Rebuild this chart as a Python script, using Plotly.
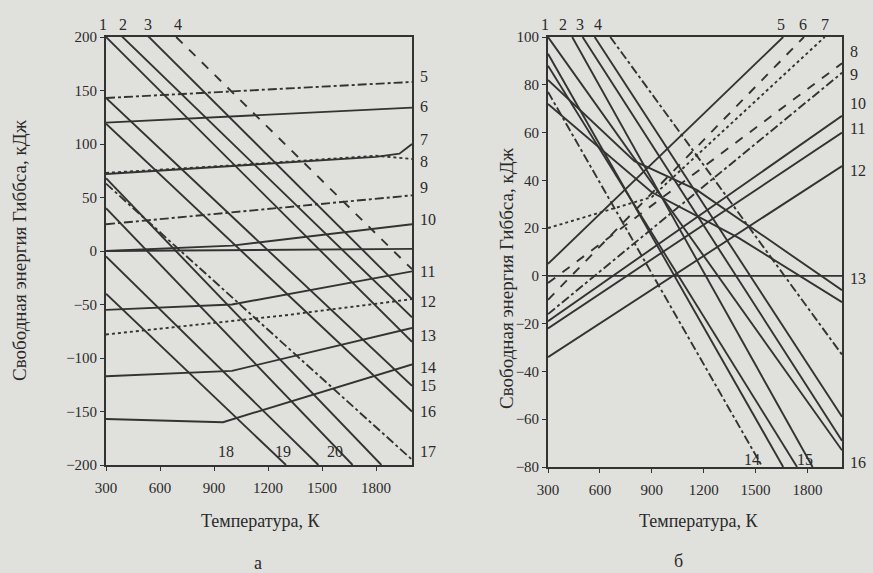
import plotly.graph_objects as go

# ---------------- Panel а (left): T, K and G, kJ ----------------
a1_T = [300, 2000];              a1_G = [200, -85]
a2_T = [300, 2000];              a2_G = [215, -62]
a3_T = [300, 2000];              a3_G = [240, -45]
a4_T = [690, 2000];              a4_G = [200, -17]
a5_T = [300, 2000];              a5_G = [143, 158]
a6_T = [300, 2000];              a6_G = [120, 134]
a7_T = [300, 1800, 1930, 2000];  a7_G = [72, 88, 91, 100]
a8_T = [300, 1000, 1800, 2000];  a8_G = [73, 80, 89, 86]
a9_T = [300, 2000];              a9_G = [25, 52]
a10_T = [300, 1000, 2000];       a10_G = [0, 5, 25]
a0_T = [300, 2000];              a0_G = [0, 2]
a11_T = [300, 1000, 2000];       a11_G = [-55, -50, -19]
a12_T = [300, 1300, 2000];       a12_G = [-78, -60, -45]
a13_T = [300, 1000, 2000];       a13_G = [-117, -112, -72]
a14_T = [300, 950, 2000];        a14_G = [-157, -160, -106]
a15_T = [300, 2000];             a15_G = [143, -126]
a16_T = [300, 2000];             a16_G = [119, -150]
a17_T = [300, 2000];             a17_G = [63, -195]
a18_T = [300, 1300];             a18_G = [-40, -200]
a19_T = [300, 1670];             a19_G = [40, -200]
a20_T = [300, 1830];             a20_G = [68, -200]
a21_T = [300, 1480];             a21_G = [-5, -200]

# ---------------- Panel б (right) ----------------
b1_T = [300, 2000];              b1_G = [100, -73]
b2_T = [440, 1830];              b2_G = [100, -80]
b3_T = [500, 2000];              b3_G = [100, -69]
b3b_T = [570, 2000];             b3b_G = [100, -59]
b4_T = [660, 2000];              b4_G = [100, -33]
b5_T = [300, 1660];              b5_G = [5, 100]
b6_T = [300, 1780];              b6_G = [-10, 100]
b7_T = [300, 900, 1900];         b7_G = [20, 33, 100]
b8_T = [300, 2000];              b8_G = [-3, 89]
b9_T = [300, 2000];              b9_G = [-16, 85]
b10_T = [300, 2000];             b10_G = [-19, 67]
b11_T = [300, 2000];             b11_G = [-22, 60]
b12_T = [300, 2000];             b12_G = [-34, 46]
b13_T = [300, 2000];             b13_G = [0, 0]
b14_T = [300, 1540];             b14_G = [77, -80]
b15a_T = [300, 1660];            b15a_G = [93, -80]
b15b_T = [300, 1740];            b15b_G = [88, -80]
bc1_T = [300, 800, 1160, 2000];  bc1_G = [82, 48, 36, -6]
bc2_T = [300, 900, 1400, 2000];  bc2_G = [72, 35, 16, -11]

a_ticks = [-200, -150, -100, -50, 0, 50, 100, 150, 200]
b_ticks = [-80, -60, -40, -20, 0, 20, 40, 60, 80, 100]
x_ticks = [300, 600, 900, 1200, 1500, 1800]

# line labels
a_labels_right = [("5", 163), ("6", 135), ("7", 104), ("8", 84), ("9", 59), ("10", 29),
                  ("11", -19), ("12", -47), ("13", -79), ("14", -109), ("15", -126),
                  ("16", -150), ("17", -187)]
a_labels_top = [("1", 283), ("2", 394), ("3", 533), ("4", 700)]
a_labels_bottom = [("18", 967), ("19", 1283), ("20", 1572)]
b_labels_right = [("8", 94), ("9", 84.5), ("10", 72), ("11", 61.5), ("12", 44), ("13", -1), ("16", -78)]
b_labels_top = [("1", 283), ("2", 387), ("3", 485), ("4", 589), ("5", 1647), ("6", 1774), ("7", 1901)]
b_labels_bottom = [("14", 1480), ("15", 1786)]

LC = "#333333"
BG = "#e0e0dc"
FONT = "Liberation Serif"

a_lines = [
    (a1_T, a1_G, "solid"), (a2_T, a2_G, "solid"), (a3_T, a3_G, "solid"), (a4_T, a4_G, "dash"),
    (a5_T, a5_G, "dashdot"), (a6_T, a6_G, "solid"), (a7_T, a7_G, "solid"), (a8_T, a8_G, "dot"),
    (a9_T, a9_G, "dashdot"), (a10_T, a10_G, "solid"), (a0_T, a0_G, "solid"),
    (a11_T, a11_G, "solid"), (a12_T, a12_G, "dot"), (a13_T, a13_G, "solid"), (a14_T, a14_G, "solid"),
    (a15_T, a15_G, "solid"), (a16_T, a16_G, "solid"), (a17_T, a17_G, "dashdot"),
    (a18_T, a18_G, "solid"), (a19_T, a19_G, "solid"), (a20_T, a20_G, "solid"), (a21_T, a21_G, "solid"),
]
b_lines = [
    (b1_T, b1_G, "solid"), (b2_T, b2_G, "solid"), (b3_T, b3_G, "solid"), (b3b_T, b3b_G, "solid"),
    (b4_T, b4_G, "dashdot"), (b5_T, b5_G, "solid"), (b6_T, b6_G, "dash"), (b7_T, b7_G, "dot"),
    (b8_T, b8_G, "dash"), (b9_T, b9_G, "dashdot"), (b10_T, b10_G, "solid"), (b11_T, b11_G, "solid"),
    (b12_T, b12_G, "solid"), (b13_T, b13_G, "solid"), (b14_T, b14_G, "dashdot"),
    (b15a_T, b15a_G, "solid"), (b15b_T, b15b_G, "solid"), (bc1_T, bc1_G, "solid"), (bc2_T, bc2_G, "solid"),
]

fig = go.Figure()
for T, G, d in a_lines:
    fig.add_trace(go.Scatter(x=T, y=G, mode="lines", xaxis="x", yaxis="y",
                             line=dict(color=LC, width=1.9, dash=d), showlegend=False, hoverinfo="skip"))
for T, G, d in b_lines:
    fig.add_trace(go.Scatter(x=T, y=G, mode="lines", xaxis="x2", yaxis="y2",
                             line=dict(color=LC, width=1.9, dash=d), showlegend=False, hoverinfo="skip"))

ann = []
lf = dict(family=FONT, size=16, color="#2a2a2a")
for t, g in a_labels_right:
    ann.append(dict(x=2000, y=g, xref="x", yref="y", text=t, showarrow=False, xanchor="left",
                    xshift=6, font=lf))
for t, T in a_labels_top:
    ann.append(dict(x=max(T, 300), y=200, xref="x", yref="y", text=t, showarrow=False, yanchor="bottom",
                    yshift=2, xshift=-3 if T < 300 else 0, font=lf))
for t, T in a_labels_bottom:
    ann.append(dict(x=T, y=-187, xref="x", yref="y", text=t, showarrow=False, font=lf))
for t, g in b_labels_right:
    ann.append(dict(x=2000, y=g, xref="x2", yref="y2", text=t, showarrow=False, xanchor="left",
                    xshift=6, font=lf))
for t, T in b_labels_top:
    ann.append(dict(x=max(T, 300), y=100, xref="x2", yref="y2", text=t, showarrow=False, yanchor="bottom",
                    yshift=2, xshift=-3 if T < 300 else 0, font=lf))
for t, T in b_labels_bottom:
    ann.append(dict(x=T, y=-77, xref="x2", yref="y2", text=t, showarrow=False, font=lf))

yf = dict(family=FONT, size=19, color="#2a2a2a")
xf = dict(family=FONT, size=18, color="#2a2a2a")
ytitle = "Свободная энергия Гиббса, кДж"
ann += [
    dict(x=19 / 873, y=1 - 250 / 573, xref="paper", yref="paper", text=ytitle, textangle=-90,
         showarrow=False, font=yf, xanchor="center", yanchor="middle"),
    dict(x=506 / 873, y=1 - 278 / 573, xref="paper", yref="paper", text=ytitle, textangle=-90,
         showarrow=False, font=yf, xanchor="center", yanchor="middle"),
    dict(x=260 / 873, y=1 - 521 / 573, xref="paper", yref="paper", text="Температура, К",
         showarrow=False, font=xf, xanchor="center", yanchor="middle"),
    dict(x=698 / 873, y=1 - 521 / 573, xref="paper", yref="paper", text="Температура, К",
         showarrow=False, font=xf, xanchor="center", yanchor="middle"),
    dict(x=258 / 873, y=1 - 563 / 573, xref="paper", yref="paper", text="а",
         showarrow=False, font=xf, xanchor="center", yanchor="middle"),
    dict(x=678 / 873, y=1 - 561 / 573, xref="paper", yref="paper", text="б",
         showarrow=False, font=xf, xanchor="center", yanchor="middle"),
]

axcommon = dict(showgrid=False, zeroline=False, showline=True, linecolor=LC, linewidth=1.8,
                mirror=True, ticks="outside", ticklen=4, tickcolor=LC, automargin=False,
                tickfont=dict(family=FONT, size=15, color="#2a2a2a"))

fig.update_layout(
    template="none",
    width=873, height=573, margin=dict(l=0, r=0, t=0, b=0, pad=0), autosize=False,
    paper_bgcolor=BG, plot_bgcolor=BG,
    xaxis=dict(domain=[106 / 873, 412 / 873], range=[300, 2000], tickvals=x_ticks, anchor="y",
               ticklabelstandoff=4, **axcommon),
    yaxis=dict(domain=[1 - 465 / 573, 1 - 37 / 573], range=[-200, 200], tickvals=a_ticks, anchor="x", **axcommon),
    xaxis2=dict(domain=[548 / 873, 842 / 873], range=[300, 2000], tickvals=x_ticks, anchor="y2",
                ticklabelstandoff=4, **axcommon),
    yaxis2=dict(domain=[1 - 467 / 573, 1 - 37 / 573], range=[-80, 100], tickvals=b_ticks, anchor="x2", **axcommon),
    annotations=ann,
)

fig.write_html("out.html")
